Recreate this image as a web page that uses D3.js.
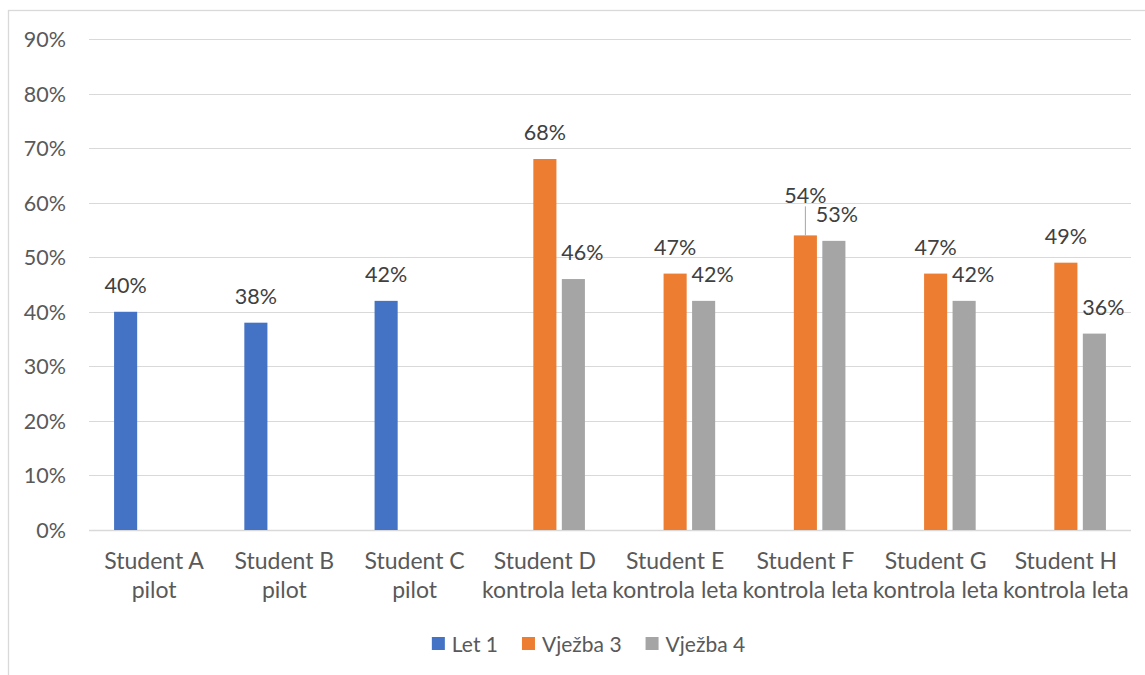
<!DOCTYPE html>
<html>
<head>
<meta charset="utf-8">
<script src="https://cdn.jsdelivr.net/npm/d3@7"></script>
<style>
  body { margin: 0; background: #fff; }
  svg text { font-family: Lato, "Open Sans", sans-serif; }
</style>
</head>
<body>
<div class="chart"></div>
<script>
// data
const students = ["Student A", "Student B", "Student C", "Student D", "Student E", "Student F", "Student G", "Student H"];
const roles = ["pilot", "pilot", "pilot", "kontrola leta", "kontrola leta", "kontrola leta", "kontrola leta", "kontrola leta"];
const seriesNames = ["Let 1", "Vježba 3", "Vježba 4"];
const let1 = [0.40, 0.38, 0.42, null, null, null, null, null];
const vjezba3 = [null, null, null, 0.68, 0.47, 0.54, 0.47, 0.49];
const vjezba4 = [null, null, null, 0.46, 0.42, 0.53, 0.42, 0.36];
const yTicks = [0, 0.1, 0.2, 0.3, 0.4, 0.5, 0.6, 0.7, 0.8, 0.9];

const colors = { "Let 1": "#4472c4", "Vježba 3": "#ed7d31", "Vježba 4": "#a5a5a5" };

// label nudges (Excel moved a few labels to avoid overlaps)
const nudge = {
  "Student F|Vježba 3": { dx: 0, dy: -13, leader: true },
  "Student F|Vježba 4": { dx: 3, dy: 0 }
};

const W = 1145, H = 675;
const margin = { top: 39, right: 14, bottom: 145, left: 89 };

const svg = d3.select(".chart").append("svg")
  .attr("width", W).attr("height", H);

// chart border
svg.append("rect")
  .attr("x", 8.5).attr("y", 10.5)
  .attr("width", W + 10).attr("height", H + 10)
  .attr("fill", "none").attr("stroke", "#d9d9d9").attr("stroke-width", 1.3);

const rows = students.map((s, i) => ({
  name: s, role: roles[i],
  values: [let1[i], vjezba3[i], vjezba4[i]]
}));

const x0 = d3.scaleBand()
  .domain(students)
  .range([margin.left, W - margin.right]);

const clusterW = 85.5;
const x1 = d3.scaleBand()
  .domain(seriesNames)
  .range([0, clusterW])
  .paddingInner(0.19)
  .paddingOuter(0.095);

const y = d3.scaleLinear()
  .domain([0, 0.9])
  .range([H - margin.bottom, margin.top]);

// gridlines
svg.append("g")
  .selectAll("line")
  .data(yTicks)
  .join("line")
  .attr("x1", margin.left).attr("x2", W - margin.right)
  .attr("y1", d => Math.round(y(d)) + 0.5).attr("y2", d => Math.round(y(d)) + 0.5)
  .attr("stroke", "#d9d9d9").attr("stroke-width", d => d === 0 ? 1.5 : 1.2);

// y axis labels
const yAxis = d3.axisLeft(y).tickValues(yTicks).tickFormat(d3.format(".0%")).tickSize(0).tickPadding(0);
svg.append("g")
  .attr("transform", `translate(66,0)`)
  .call(yAxis)
  .call(g => g.select(".domain").remove())
  .call(g => g.selectAll("text")
    .attr("fill", "#595959").attr("font-size", 21.5)
    .attr("font-family", "Lato, sans-serif")
    .attr("dy", "0.35em"));

// bars
const groups = svg.append("g")
  .selectAll("g")
  .data(rows)
  .join("g")
  .attr("transform", d => `translate(${x0(d.name) + (x0.bandwidth() - clusterW) / 2},0)`);

const cells = groups.selectAll("g.cell")
  .data(d => seriesNames.map((s, i) => ({ student: d.name, key: s, value: d.values[i] })).filter(v => v.value != null))
  .join("g").attr("class", "cell");

cells.append("rect")
  .attr("x", d => x1(d.key))
  .attr("width", x1.bandwidth())
  .attr("y", d => y(d.value))
  .attr("height", d => y(0) - y(d.value))
  .attr("fill", d => colors[d.key]);

// data labels
cells.each(function (d) {
  const n = nudge[d.student + "|" + d.key] || { dx: 0, dy: 0 };
  const g = d3.select(this);
  const cx = x1(d.key) + x1.bandwidth() / 2;
  const grey = d.key === "Vježba 4" && !nudge[d.student + "|" + d.key] ? 9 : 0;
  const ty = y(d.value) - 19 + n.dy;
  if (n.leader) {
    g.append("line")
      .attr("x1", cx).attr("x2", cx)
      .attr("y1", y(d.value)).attr("y2", ty + 3)
      .attr("stroke", "#a6a6a6").attr("stroke-width", 1);
  }
  g.append("text")
    .attr("x", cx + n.dx + grey)
    .attr("y", ty)
    .attr("text-anchor", "middle")
    .attr("fill", "#404040")
    .attr("font-size", 21.5)
    .text(d3.format(".0%")(d.value));
});

// category labels
const xl = svg.append("g")
  .selectAll("text")
  .data(rows)
  .join("text")
  .attr("text-anchor", "middle")
  .attr("fill", "#595959")
  .attr("font-size", 23)
  .attr("x", d => x0(d.name) + x0.bandwidth() / 2);
xl.append("tspan").attr("x", d => x0(d.name) + x0.bandwidth() / 2).attr("y", 569).text(d => d.name);
xl.append("tspan").attr("x", d => x0(d.name) + x0.bandwidth() / 2).attr("y", 598).text(d => d.role);

// legend
const legend = svg.append("g");
let lx = 0;
seriesNames.forEach(s => {
  const item = legend.append("g").attr("transform", `translate(${lx},0)`);
  item.append("rect").attr("x", 0).attr("y", -7).attr("width", 13).attr("height", 13).attr("fill", colors[s]);
  const t = item.append("text").attr("x", 20).attr("y", 7.5)
    .attr("fill", "#595959").attr("font-size", 21).text(s);
  lx += 20 + t.node().getComputedTextLength() + 24;
});
const legendW = lx - 24;
legend.attr("transform", `translate(${588.5 - legendW / 2},644)`);
</script>
</body>
</html>
